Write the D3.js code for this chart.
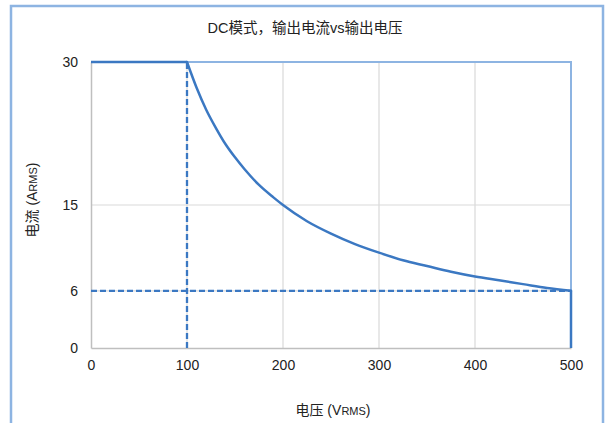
<!DOCTYPE html>
<html><head><meta charset="utf-8">
<script src="https://cdn.jsdelivr.net/npm/d3@7"></script>
<style>body{margin:0;background:#fff}svg{display:block}text{font-family:"Liberation Sans",Arial,"Noto Sans CJK SC",sans-serif;fill:#222}</style>
</head><body>
<script>
const title = "DC模式，输出电流vs输出电压";
const xTicks = [0,100,200,300,400,500];
const yTicks = [0,6,15,30];
// solid series: flat limit, power curve, final drop (voltage V, current A)
const flatV = [0,100];
const flatI = [30,30];
const curveV = [100,110,120,130,140,150,160,175,190,200,225,250,275,300,325,350,375,400,425,450,475,500];
const curveI = [30,27.3,25,23.1,21.4,20,18.75,17.1,15.8,15,13.3,12,10.9,10,9.2,8.6,8,7.5,7.1,6.7,6.3,6];
const dropV = [500,500];
const dropI = [6,0];
// dashed guide lines
const guideV = [[100,0],[100,30]];
const guideI = [[0,6],[500,6]];

const W=605,H=423;
const svg=d3.select("body").append("svg").attr("width",W).attr("height",H);
svg.append("rect").attr("x",11).attr("y",6).attr("width",592).attr("height",430)
  .attr("fill","none").attr("stroke","#8db4e2").attr("stroke-width",2.5);

const x=d3.scaleLinear().domain([0,500]).range([91,571]);
const y=d3.scaleLinear().domain([0,30]).range([348,62]);

svg.append("g").selectAll("line").data(xTicks.filter(d=>d>0&&d<500)).join("line")
  .attr("x1",d=>x(d)).attr("x2",d=>x(d)).attr("y1",y(0)).attr("y2",y(30))
  .attr("stroke","#d9d9d9").attr("stroke-width",1.2);
svg.append("g").selectAll("line").data(yTicks.filter(d=>d>0&&d<30)).join("line")
  .attr("x1",x(0)).attr("x2",x(500)).attr("y1",d=>y(d)).attr("y2",d=>y(d))
  .attr("stroke","#d9d9d9").attr("stroke-width",1.2);
svg.append("path").attr("d",`M${x(0)},${y(30)}H${x(500)}V${y(0)}`)
  .attr("fill","none").attr("stroke","#8db4e2").attr("stroke-width",2);

const xa=svg.append("g").attr("transform",`translate(0,${y(0)})`)
  .call(d3.axisBottom(x).tickValues(xTicks).tickSize(0).tickPadding(12));
xa.select(".domain").attr("stroke","#bfbfbf").attr("stroke-width",1.5);
xa.selectAll("text").attr("font-size",14).style("fill","#222");
const ya=svg.append("g").attr("transform",`translate(${x(0)},0)`)
  .call(d3.axisLeft(y).tickValues(yTicks).tickSize(0).tickPadding(13));
ya.select(".domain").attr("stroke","#bfbfbf").attr("stroke-width",1.5);
ya.selectAll("text").attr("font-size",14).style("fill","#222");

const col="#3b78c2";
const line=d3.line().x(d=>x(d[0])).y(d=>y(d[1]));
const smooth=d3.line().x(d=>x(d[0])).y(d=>y(d[1])).curve(d3.curveMonotoneX);
svg.append("path").datum(guideV).attr("d",line).attr("fill","none").attr("stroke",col)
  .attr("stroke-width",2.3).attr("stroke-dasharray","6,3");
svg.append("path").datum(guideI).attr("d",line).attr("fill","none").attr("stroke",col)
  .attr("stroke-width",2.3).attr("stroke-dasharray","6,3");
const zip=(a,b)=>a.map((v,i)=>[v,b[i]]);
svg.append("path").datum(zip(flatV,flatI)).attr("d",line).attr("fill","none")
  .attr("stroke",col).attr("stroke-width",2.5);
svg.append("path").datum(zip(curveV,curveI)).attr("d",smooth).attr("fill","none")
  .attr("stroke",col).attr("stroke-width",2.5).attr("stroke-linecap","round");
svg.append("path").datum(zip(dropV,dropI)).attr("d",line).attr("fill","none")
  .attr("stroke",col).attr("stroke-width",2.5);

svg.append("text").attr("x",305).attr("y",33).attr("text-anchor","middle")
  .attr("font-size",14.5).text(title);
const xl=svg.append("text").attr("x",333).attr("y",415).attr("text-anchor","middle").attr("font-size",14);
xl.append("tspan").text("电压 (V");
xl.append("tspan").attr("font-size",11).text("RMS");
xl.append("tspan").text(")");
const yl=svg.append("text").attr("transform","translate(37,200) rotate(-90)").attr("text-anchor","middle").attr("font-size",14);
yl.append("tspan").text("电流 (A");
yl.append("tspan").attr("font-size",11).text("RMS");
yl.append("tspan").text(")");
</script>
</body></html>
